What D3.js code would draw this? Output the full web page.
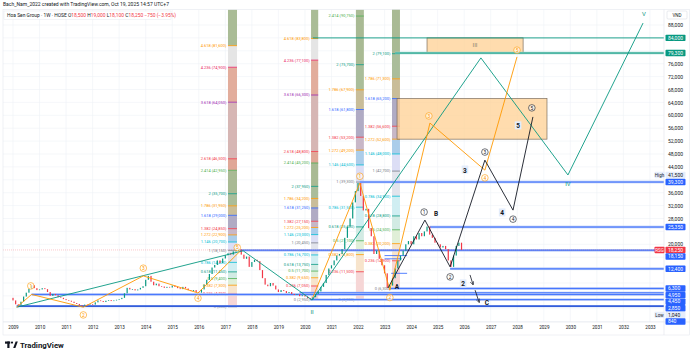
<!DOCTYPE html>
<html><head><meta charset="utf-8">
<script src="https://cdn.jsdelivr.net/npm/d3@7/dist/d3.min.js"></script>
<style>
html,body{margin:0;padding:0;background:#fff;}
svg{display:block;}
text{font-family:Roboto,"Liberation Sans",Arial,sans-serif;}
</style></head><body>
<svg id="chart" width="690" height="359"></svg>
<script>
// ---------------- DATA ----------------
const priceStartYear = 2008.9, priceStep = 0.1;
const priceCloses = [
3400,2600,1400,1200,2200,3800,5000,6200,7300,6400,
5800,6000,6400,6100,5200,4000,4600,4200,3600,3400,
3000,2700,2500,2200,1800,1500,1100,1000,1300,1200,
1400,1300,2000,2600,2400,2100,2500,2700,2400,2600,
2800,3000,3400,4800,6500,6000,6100,5700,6000,6500,
7000,9000,10200,8400,7300,7800,7000,6900,6500,6800,
6600,7200,6800,6400,6100,6800,6300,5800,5500,5800,
5200,5000,6000,7500,9000,10800,12800,13600,15000,14200,
15600,16600,17200,16800,17800,18000,18400,16800,15500,16200,
13000,14500,15200,14800,12000,9500,7500,7000,8000,7200,
6000,5200,5800,5500,4900,5200,4600,4300,4500,3900,
4200,3800,3300,2900,3600,4600,5400,6800,8000,10500,
12500,13500,15000,16500,17000,18500,22000,25500,28000,33000,
36500,39000,35000,30500,31000,25000,22500,17000,18000,15500,
13500,11000,6500,7200,9500,12500,15000,16500,18000,20000,
21000,20000,22500,21500,23500,22500,24000,25500,23000,22000,
20500,20000,19000,19500,18500,15000,13000,16500,19500,20500,
18250];
const lastPrice = 18250;

const yearTicks = d3.range(2009, 2034);
const priceTicks = d3.range(-4000, 88001, 4000);

// Fibonacci extension columns
const fibRatios = [0,0.236,0.382,0.5,0.618,0.786,1,1.146,1.272,1.382,1.618,1.786,2,2.414,2.618,3.618,4.236,4.618];
const fibStart = [2017.10, 2020.23, 2021.92, 2023.28];
const fibEnd   = [2017.44, 2020.50, 2022.22, 2023.58];
const fibZero  = [613, 2940, 2900, 6300];
const fibOne   = [18150, 20450, 39300, 42700];
const fibMax   = [4.618, 4.618, 2.414, 2.414];

// horizontal rays
const blueLevels = [39300, 25350, 18150, 12400, 6300, 4950, 4450, 2850, 840];
const blueStarts = [2022.07, 2024.71, 2017.55, 2025.47, 2023.2, 2019.8, 2009.7, 2020.2, 2009.14];
const tealLevels = [84000, 79300];
const tealStarts = [2020.3, 2023.4];
const shortSegs = [[2023.0, 2023.85, 16500], [2023.0, 2023.65, 15500], [2023.25, 2023.85, 11000]];

// target boxes [startYear, endYear, low, high]
const boxes = [[2024.6, 2028.22, 79300, 84000], [2023.47, 2029.12, 52600, 65200]];

// wave zigzags [year, price]
const tealWave = [[2009.14,500],[2017.67,18000],[2020.27,2700],[2026.63,77800],[2029.91,41500],[2032.74,88600]];
const orangeWave1 = [[2009.14,500],[2009.70,4450],[2011.65,500],[2013.91,10200],[2015.97,4900],[2017.55,17800]];
const orangeWave2 = [[2020.30,3600],[2022.07,39000],[2023.20,5800],[2024.71,57600],[2026.78,43000],[2027.99,78100]];
const blackWave = [[2023.13,6450],[2024.52,27500],[2025.47,13000],[2026.78,46100],[2027.84,30600],[2028.59,59500]];

// circled wave labels [year, price, text]
const orangeCircles = [[2009.67,7100,'1'],[2011.65,-1900,'2'],[2013.91,12600,'3'],[2015.97,3300,'4'],[2017.45,19000,'5'],
  [2022.07,41100,'1'],[2023.2,3500,'2'],[2024.67,59800,'3'],[2026.78,40600,'4'],[2027.99,80200,'5']];
const blackCircles = [[2024.49,30000,'1'],[2025.47,9900,'2'],[2026.78,48600,'3'],[2027.84,27800,'4'],[2028.55,62300,'5']];
const boldLabels = [[2023.47,6800,'A',false],[2024.94,29400,'B',false],[2025.96,7700,'2',true],[2026.03,43000,'3',true],
  [2027.43,29700,'4',true],[2028.03,56700,'5',true],[2026.86,1800,'C',false]];
const romanLabels = [[2020.27,-1100,'II'],[2029.91,38600,'IV'],[2032.77,91300,'V']];
const arrows = [[2026.22,10500,2026.33,7600],[2026.41,5800,2026.56,2100]];

// right-axis tags
const tagValues = [84000,79300,41500,39300,25350,18250,18150,12400,6300,4950,4450,2850,1040,840];
const tagKinds  = ['teal','teal','high','blue','blue','last','blue','blue','blue','blue','blue','blue','low','blue'];

// ---------------- STYLE MAPS ----------------
const levelColors = {0:'#787B86',0.236:'#F23645',0.382:'#FF9800',0.5:'#4CAF50',0.618:'#089981',0.786:'#00BCD4',1:'#787B86',
  1.146:'#00BCD4',1.272:'#FF9800',1.382:'#F23645',1.618:'#2962FF',1.786:'#FF9800',2:'#089981',2.414:'#4CAF50',
  2.618:'#F23645',3.618:'#9C27B0',4.236:'#E91E63',4.618:'#FF9800'};
const bandColors = {0.236:'#f6d6d6',0.382:'#f7e4cc',0.5:'#e0efd8',0.618:'#d2ebe4',0.786:'#d0eef2',1:'#e2e4ec',
  1.146:'#dcdef5',1.272:'#abcdea',1.382:'#c8b7c7',1.618:'#b0abc4',1.786:'#c9bd99',2:'#aabd9a',2.414:'#a9ba94',
  2.618:'#e0a797',3.618:'#d6b6b4',4.236:'#e2ad9c',4.618:'#e5e5e5'};
const topBand = '#aabc96';

// ---------------- SCALES ----------------
const pane = {l:3, t:9.5, r:664, b:322};
const x = d3.scaleLinear().domain([2008.623, 2033.529]).range([pane.l, pane.r]);
const y = d3.scaleLinear().domain([-4093, 92806]).range([pane.b, pane.t]);
const fmt = d3.format(',');

const svg = d3.select('#chart');
svg.append('rect').attr('width',690).attr('height',359).attr('fill','#fff');
svg.append('defs').append('clipPath').attr('id','clip').append('rect')
  .attr('x',pane.l).attr('y',pane.t).attr('width',pane.r-pane.l).attr('height',pane.b-pane.t);
const g = svg.append('g').attr('clip-path','url(#clip)');

// grid
g.selectAll('.hg').data(priceTicks).join('line').attr('x1',pane.l).attr('x2',pane.r)
  .attr('y1',d=>y(d)).attr('y2',d=>y(d)).attr('stroke','#eef1f6').attr('stroke-width',0.6);
g.selectAll('.vg').data(yearTicks).join('line').attr('y1',pane.t).attr('y2',pane.b)
  .attr('x1',d=>x(d)).attr('x2',d=>x(d)).attr('stroke','#eef1f6').attr('stroke-width',0.6);

// fib columns
fibStart.forEach((s,c)=>{
  const p0=fibZero[c], p1=fibOne[c];
  const lv = fibRatios.filter(r=>r<=fibMax[c]+1e-9).map(r=>({r, p:p0 + r*(p1-p0)}));
  const x0=x(s), x1=x(fibEnd[c]);
  const col = g.append('g');
  for(let i=1;i<lv.length;i++){
    col.append('rect').attr('x',x0).attr('width',x1-x0).attr('y',y(lv[i].p)).attr('height',y(lv[i-1].p)-y(lv[i].p))
      .attr('fill',bandColors[lv[i].r]);
  }
  const top = lv[lv.length-1];
  col.append('rect').attr('x',x0).attr('width',x1-x0).attr('y',pane.t).attr('height',Math.max(0,y(top.p)-pane.t)).attr('fill',topBand);
  col.selectAll('.lvl').data(lv).join('line').attr('x1',x0).attr('x2',x1).attr('y1',d=>y(d.p)).attr('y2',d=>y(d.p))
    .attr('stroke',d=>levelColors[d.r]).attr('stroke-width',0.8);
  col.selectAll('.lbl').data(lv).join('text').attr('x',x0-1.5).attr('y',d=>y(d.p)+1.4).attr('text-anchor','end')
    .attr('font-size',4).attr('fill',d=>levelColors[d.r])
    .text(d=>`${d.r} (${fmt(Math.round(d.p/50)*50)})`);
});

// boxes
g.selectAll('.box').data(boxes).join('rect').attr('x',d=>x(d[0])).attr('width',d=>x(d[1])-x(d[0]))
  .attr('y',d=>y(d[3])).attr('height',d=>y(d[2])-y(d[3]))
  .attr('fill','#ffcf8f').attr('fill-opacity',0.72).attr('stroke','#7d6e5c').attr('stroke-width',0.7);
g.append('text').attr('x',(x(boxes[0][0])+x(boxes[0][1]))/2).attr('y',(y(boxes[0][2])+y(boxes[0][3]))/2+2)
  .attr('text-anchor','middle').attr('font-size',6).attr('fill','#8f8570').text('III');

// horizontal rays
blueLevels.forEach((v,i)=>{
  const dark = v===840;
  g.append('line').attr('x1',x(blueStarts[i])).attr('x2',pane.r).attr('y1',y(v)).attr('y2',y(v))
    .attr('stroke', '#a8bef8').attr('stroke-width',2.4);
  g.append('line').attr('x1',x(blueStarts[i])).attr('x2',pane.r).attr('y1',y(v)).attr('y2',y(v))
    .attr('stroke', dark?'#0c3ccf':'#2962FF').attr('stroke-width',dark?1.1:0.8);
});
shortSegs.forEach(s=>{
  g.append('line').attr('x1',x(s[0])).attr('x2',x(s[1])).attr('y1',y(s[2])).attr('y2',y(s[2]))
    .attr('stroke','#2962FF').attr('stroke-width',0.8);
});
tealLevels.forEach((v,i)=>{
  if(i===1) g.append('line').attr('x1',x(tealStarts[i])).attr('x2',pane.r).attr('y1',y(v)).attr('y2',y(v))
    .attr('stroke','#9bd6cb').attr('stroke-width',2.4);
  g.append('line').attr('x1',x(tealStarts[i])).attr('x2',pane.r).attr('y1',y(v)).attr('y2',y(v))
    .attr('stroke','#089981').attr('stroke-width',0.9);
});

// last price line
g.append('line').attr('x1',pane.l).attr('x2',pane.r).attr('y1',y(lastPrice)).attr('y2',y(lastPrice))
  .attr('stroke','#F23645').attr('stroke-opacity',0.45).attr('stroke-width',0.6).attr('stroke-dasharray','1,1');

// candles
const candles = priceCloses.slice(1).map((c,i)=>({t:priceStartYear+(i+1)*priceStep, o:priceCloses[i], c}));
g.selectAll('.cdl').data(candles).join('rect')
  .attr('x',d=>x(d.t)-0.6).attr('width',1.2)
  .attr('y',d=>y(Math.max(d.o,d.c))).attr('height',d=>Math.max(0.7,Math.abs(y(d.o)-y(d.c))))
  .attr('fill',d=>d.c>=d.o?'#089981':'#F23645');

// zigzags
const line = d3.line().x(d=>x(d[0])).y(d=>y(d[1]));
[[tealWave,'#089981'],[orangeWave1,'#FF9800'],[orangeWave2,'#FF9800'],[blackWave,'#131722']].forEach(([w,c])=>{
  g.append('path').attr('d',line(w)).attr('fill','none').attr('stroke',c).attr('stroke-width',0.9);
});

// arrows
svg.append('defs').append('marker').attr('id','ah').attr('viewBox','0 0 10 10').attr('refX',8).attr('refY',5)
  .attr('markerWidth',5).attr('markerHeight',5).attr('orient','auto')
  .append('path').attr('d','M0,0 L10,5 L0,10').attr('fill','none').attr('stroke','#131722').attr('stroke-width',1.5);
arrows.forEach(a=>{
  g.append('line').attr('x1',x(a[0])).attr('y1',y(a[1])).attr('x2',x(a[2])).attr('y2',y(a[3]))
    .attr('stroke','#131722').attr('stroke-width',0.8).attr('marker-end','url(#ah)');
});

// circle labels
function circles(data,color){
  data.forEach(d=>{
    g.append('circle').attr('cx',x(d[0])).attr('cy',y(d[1])).attr('r',3.3).attr('fill','#fff').attr('fill-opacity',0.6)
      .attr('stroke',color).attr('stroke-width',0.6);
    g.append('text').attr('x',x(d[0])).attr('y',y(d[1])+1.7).attr('text-anchor','middle').attr('font-size',4.8)
      .attr('fill',color).text(d[2]);
  });
}
circles(orangeCircles,'#FF9800');
circles(blackCircles,'#131722');

boldLabels.forEach(d=>{
  if(d[3]) g.append('rect').attr('x',x(d[0])-3.3).attr('y',y(d[1])-4.6).attr('width',6.6).attr('height',8)
    .attr('fill','#e3ecfb');
  g.append('text').attr('x',x(d[0])).attr('y',y(d[1])+2.4).attr('text-anchor','middle').attr('font-size',6.5)
    .attr('font-weight','bold').attr('fill','#131722').text(d[2]);
});
romanLabels.forEach(d=>{
  g.append('text').attr('x',x(d[0])).attr('y',y(d[1])+2).attr('text-anchor','middle').attr('font-size',6)
    .attr('fill','#089981').text(d[2]);
});

// borders
svg.append('line').attr('x1',pane.l).attr('x2',690).attr('y1',pane.b).attr('y2',pane.b).attr('stroke','#e0e3eb').attr('stroke-width',0.6);
svg.append('line').attr('x1',pane.r).attr('x2',pane.r).attr('y1',pane.t).attr('y2',pane.b+13).attr('stroke','#e0e3eb').attr('stroke-width',0.6);
svg.append('rect').attr('x',pane.l).attr('y',pane.t).attr('width',690-pane.l-0.5).attr('height',pane.b+13-pane.t)
  .attr('fill','none').attr('stroke','#e0e3eb').attr('stroke-width',0.5);

// tag positions (stacked so they do not overlap)
let prev = -Infinity;
const tagY = tagValues.map(v=>{ const yy=Math.max(y(v), prev+6.6); prev=yy; return yy; });

// right axis (ticks hidden where a tag covers them)
const visibleTicks = priceTicks.filter(t=>tagY.every(ty=>Math.abs(ty-y(t))>5.6));
const ya = svg.append('g').attr('transform',`translate(${pane.r},0)`)
  .call(d3.axisRight(y).tickValues(visibleTicks).tickSize(0).tickPadding(4).tickFormat(fmt));
ya.select('.domain').remove();
ya.selectAll('text').attr('font-size',5).attr('fill','#131722');

// tags
const tagColors = {teal:'#089981', blue:'#2962FF', last:'#F23645', high:'#e6edfb', low:'#e6edfb'};
tagValues.forEach((v,i)=>{
  const yy = tagY[i];
  const k = tagKinds[i];
  const light = (k==='high'||k==='low');
  svg.append('rect').attr('x',665.5).attr('y',yy-3.2).attr('width',20).attr('height',6.4).attr('rx',0.8)
    .attr('fill',tagColors[k]);
  svg.append('text').attr('x',668).attr('y',yy+1.8).attr('font-size',5).attr('fill',light?'#131722':'#fff').text(fmt(v));
  if(k!=='blue' && k!=='teal'){
    svg.append('rect').attr('x',654.5).attr('y',yy-3.2).attr('width',10).attr('height',6.4).attr('rx',0.8)
      .attr('fill',tagColors[k]);
    svg.append('text').attr('x',659.5).attr('y',yy+1.8).attr('text-anchor','middle').attr('font-size',4.5)
      .attr('fill',light?'#131722':'#fff').text(k==='high'?'High':k==='low'?'Low':'RSG');
  }
});

// VND box
svg.append('rect').attr('x',667).attr('y',11).attr('width',20).attr('height',8).attr('rx',1)
  .attr('fill','#fff').attr('stroke','#d1d4dc').attr('stroke-width',0.5);
svg.append('text').attr('x',677).attr('y',16.7).attr('text-anchor','middle').attr('font-size',4.5).attr('fill','#131722').text('VND');

// bottom axis
const xa = svg.append('g').attr('transform',`translate(0,${pane.b})`)
  .call(d3.axisBottom(x).tickValues(yearTicks).tickSize(0).tickPadding(4).tickFormat(d3.format('d')));
xa.select('.domain').remove();
xa.selectAll('text').attr('font-size',4.6).attr('fill','#131722');

// header
svg.append('text').attr('x',3).attr('y',6.3).attr('font-size',5).attr('fill','#131722')
  .text('Bach_Nam_2022 created with TradingView.com, Oct 19, 2025 14:57 UTC+7');
svg.append('rect').attr('x',4).attr('y',11).attr('width',167).attr('height',8.5).attr('fill','#fff').attr('fill-opacity',0.9)
  .attr('stroke','#e0e3eb').attr('stroke-width',0.4);
const leg = svg.append('text').attr('x',7).attr('y',16.8).attr('font-size',4.9).attr('fill','#131722');
leg.append('tspan').text('Hoa Sen Group · 1W · HOSE  ');
[['O','18,500'],['H','19,000'],['L','18,100'],['C','18,250']].forEach(p=>{
  leg.append('tspan').text(' '+p[0]);
  leg.append('tspan').attr('fill','#F23645').text(p[1]);
});
leg.append('tspan').attr('fill','#F23645').text('  −750 (−3.95%)');

// logo
const lg = svg.append('g').attr('fill','#131722');
lg.append('rect').attr('x',5).attr('y',341.5).attr('width',5.2).attr('height',2.2);
lg.append('rect').attr('x',7.3).attr('y',341.5).attr('width',2.2).attr('height',6.5);
lg.append('circle').attr('cx',12).attr('cy',342.6).attr('r',1.1);
lg.append('path').attr('d','M13.2,348 L15.6,341.5 L17.8,341.5 L15.4,348 Z');
svg.append('text').attr('x',20).attr('y',347.8).attr('font-size',7.8).attr('font-weight','bold').attr('fill','#131722').text('TradingView');
</script>
</body></html>
